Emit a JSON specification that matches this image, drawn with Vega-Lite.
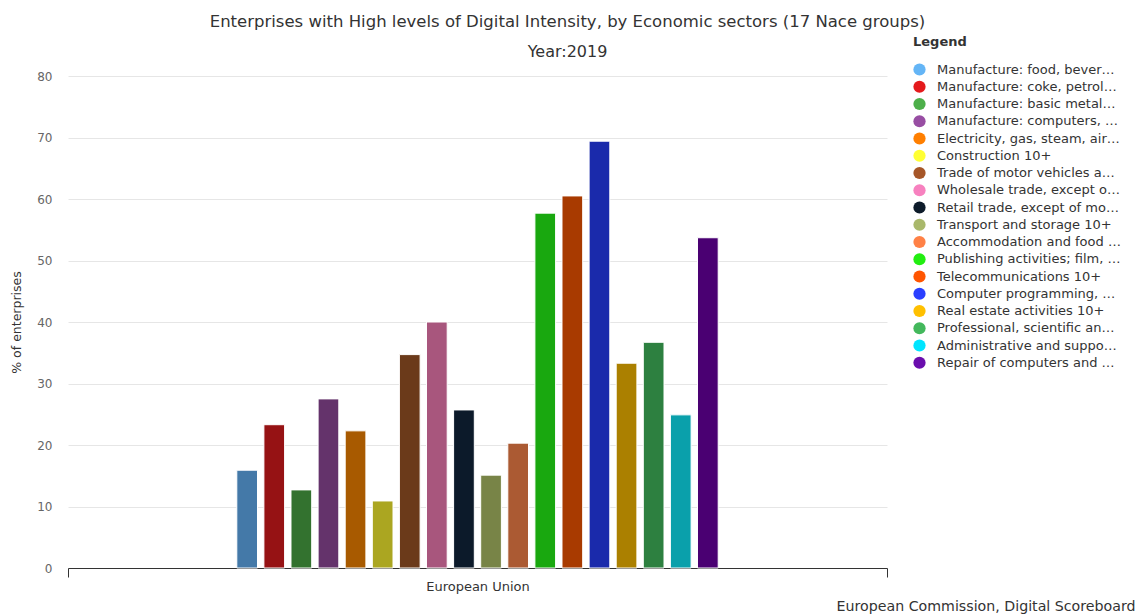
{
  "$schema": "https://vega.github.io/schema/vega-lite/v6.json",
  "width": 819,
  "height": 492,
  "autosize": {"type": "none"},
  "padding": {"left": 68, "top": 76, "right": 254, "bottom": 48},
  "background": "white",
  "title": {
    "text": "Enterprises with High levels of Digital Intensity, by Economic sectors (17 Nace groups)",
    "subtitle": "Year:2019",
    "anchor": "middle",
    "dx": 90,
    "font": "DejaVu Sans",
    "fontSize": 16.5,
    "fontWeight": "normal",
    "color": "#333333",
    "subtitleFont": "DejaVu Sans",
    "subtitleFontSize": 16,
    "subtitleColor": "#333333",
    "subtitlePadding": 14,
    "offset": -24
  },
  "config": {"view": {"stroke": null}},
  "data": {
    "values": [
      {"region": "European Union", "sector": "Manufacture: food, beverages, tobacco, textile, wearing apparel, leather, wood and paper; publishing and printing 10+", "value": 15.9},
      {"region": "European Union", "sector": "Manufacture: coke, petroleum, chemical, basic pharmaceutical products, rubber and plastics, other non-metallic mineral 10+", "value": 23.3},
      {"region": "European Union", "sector": "Manufacture: basic metals & fabricated metal products excluding machines and equipment 10+", "value": 12.7},
      {"region": "European Union", "sector": "Manufacture: computers, electronic and optical products, electrical equipment, machinery, motor vehicles, other transport equipment 10+", "value": 27.5},
      {"region": "European Union", "sector": "Electricity, gas, steam, air conditioning and water supply 10+", "value": 22.3},
      {"region": "European Union", "sector": "Construction 10+", "value": 10.9},
      {"region": "European Union", "sector": "Trade of motor vehicles and motorcycles 10+", "value": 34.7},
      {"region": "European Union", "sector": "Wholesale trade, except of motor vehicles and motorcycles 10+", "value": 40.0},
      {"region": "European Union", "sector": "Retail trade, except of motor vehicles and motorcycles 10+", "value": 25.7},
      {"region": "European Union", "sector": "Transport and storage 10+", "value": 15.1},
      {"region": "European Union", "sector": "Accommodation and food service activities 10+", "value": 20.3},
      {"region": "European Union", "sector": "Publishing activities; film, video, television programme production; sound recording and music publishing 10+", "value": 57.7},
      {"region": "European Union", "sector": "Telecommunications 10+", "value": 60.5},
      {"region": "European Union", "sector": "Computer programming, consultancy and related activities, information service activities 10+", "value": 69.4},
      {"region": "European Union", "sector": "Real estate activities 10+", "value": 33.3},
      {"region": "European Union", "sector": "Professional, scientific and technical activities 10+", "value": 36.7},
      {"region": "European Union", "sector": "Administrative and support service activities 10+", "value": 24.9},
      {"region": "European Union", "sector": "Repair of computers and communication equipment 10+", "value": 53.7}
    ]
  },
  "encoding": {
    "x": {
      "field": "region",
      "type": "nominal",
      "scale": {"paddingInner": 0, "paddingOuter": 0},
      "axis": {
        "title": "European Commission, Digital Scoreboard",
        "titleX": 1067,
        "titleY": 42,
        "titleAlign": "right",
        "titleAnchor": null,
        "titleBaseline": "alphabetic",
        "titleFont": "DejaVu Sans",
        "titleFontSize": 14.2,
        "titleFontWeight": "normal",
        "titleColor": "#333333",
        "labelAngle": 0,
        "labelFont": "DejaVu Sans",
        "labelFontSize": 13,
        "labelColor": "#333333",
        "labelPadding": 3,
        "domainColor": "#333333",
        "domainWidth": 1,
        "tickBand": "extent",
        "tickColor": "#333333",
        "tickSize": 9,
        "grid": false
      }
    },
    "xOffset": {
      "field": "sector",
      "type": "nominal",
      "sort": null,
      "scale": {"range": [168.8, 650.2], "paddingInner": 0.236, "paddingOuter": 0}
    },
    "y": {
      "field": "value",
      "type": "quantitative",
      "scale": {"domain": [0, 80], "nice": false},
      "axis": {
        "title": "% of enterprises",
        "titleFont": "DejaVu Sans",
        "titleFontSize": 12.5,
        "titleFontWeight": "normal",
        "titleColor": "#333333",
        "titlePadding": 13,
        "values": [0, 10, 20, 30, 40, 50, 60, 70, 80],
        "labelFont": "DejaVu Sans",
        "labelFontSize": 12,
        "labelColor": "#666666",
        "labelPadding": 16,
        "ticks": false,
        "domain": false,
        "gridColor": "#e6e6e6",
        "gridWidth": 1
      }
    }
  },
  "layer": [
    {
      "mark": {"type": "bar", "stroke": "white", "strokeWidth": 1},
      "encoding": {
        "fill": {
          "field": "sector",
          "type": "nominal",
          "sort": null,
          "legend": null,
          "scale": {
            "range": ["#4479a8", "#961214", "#33722f", "#64336b", "#a85a00", "#aba621", "#6b3a1a", "#a8567d", "#0c1a2a", "#788447", "#ab5a33", "#19a80f", "#a83a00", "#1a2aab", "#ab8000", "#2d8040", "#0aa0ab", "#4a0072"]
          }
        }
      }
    },
    {
      "mark": {"type": "point", "filled": true, "opacity": 0},
      "encoding": {
        "color": {
          "field": "sector",
          "type": "nominal",
          "sort": null,
          "scale": {
            "range": ["#64b5f6", "#e41a1c", "#4daf4a", "#984ea3", "#ff7f00", "#ffff33", "#a65628", "#f781bf", "#0d1b2a", "#a9b86b", "#ff8146", "#22ee11", "#ff5500", "#2a3fff", "#ffc000", "#43b85c", "#00e5ff", "#6a0dad"]
          },
          "legend": {
            "title": "Legend",
            "orient": "none",
            "legendX": 845,
            "legendY": -40,
            "titleFont": "DejaVu Sans",
            "titleFontSize": 13,
            "titleFontWeight": "bold",
            "titleColor": "#333333",
            "titlePadding": 14,
            "labelFont": "DejaVu Sans",
            "labelFontSize": 13,
            "labelColor": "#333333",
            "labelLimit": 184,
            "labelOffset": 11,
            "symbolType": "circle",
            "symbolSize": 150,
            "symbolStrokeWidth": 0,
            "symbolOpacity": 1,
            "rowPadding": 3.25
          }
        }
      }
    }
  ]
}
